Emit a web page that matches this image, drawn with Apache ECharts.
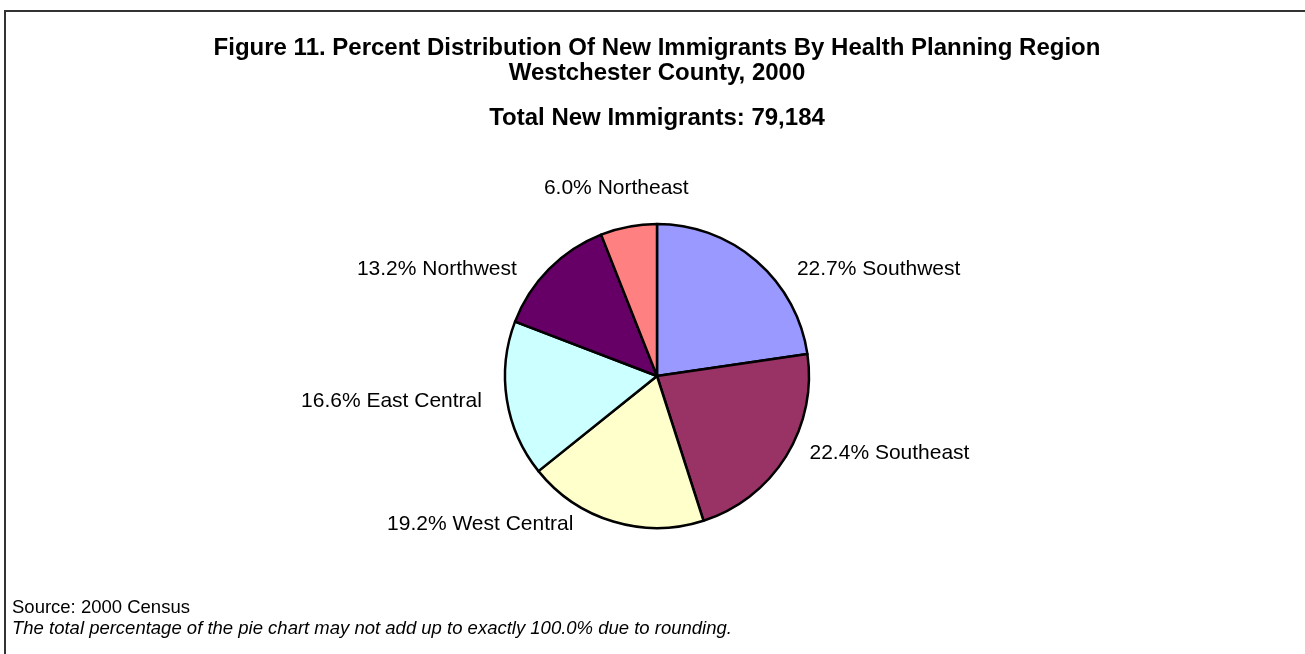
<!DOCTYPE html>
<html>
<head>
<meta charset="utf-8">
<script src="https://cdn.jsdelivr.net/npm/echarts@6/dist/echarts.min.js"></script>
<style>
html,body{margin:0;padding:0;background:#fff;}
#chart{width:1305px;height:654px;}
</style>
</head>
<body>
<div id="chart"></div>
<script>
const regions = ['Southwest', 'Southeast', 'West Central', 'East Central', 'Northwest', 'Northeast'];
const percents = [22.7, 22.4, 19.2, 16.6, 13.2, 6.0];
const sliceColors = ['#9999FF', '#993366', '#FFFFCC', '#CCFFFF', '#660066', '#FF8080'];
const titleLines = ['Figure 11. Percent Distribution Of New Immigrants By Health Planning Region', 'Westchester County, 2000'];
const subtitleText = 'Total New Immigrants: 79,184';
const sourceText = 'Source: 2000 Census';
const noteText = 'The total percentage of the pie chart may not add up to exactly 100.0% due to rounding.';
// label nudges (layout styling, not data) to mimic the hand-placed labels of the original
const labelNudge = [[9, 16], [-10, -8], [-12, -7], [10, 0], [0, 7], [87, -29]];

const FONT = '"Liberation Sans", Arial, sans-serif';
const chart = echarts.init(document.getElementById('chart'), null, {renderer: 'canvas'});

const pieData = regions.map((name, i) => ({
  name: name,
  value: percents[i],
  itemStyle: {color: sliceColors[i]}
}));

chart.setOption({
  backgroundColor: '#ffffff',
  animation: false,
  graphic: [
    {
      type: 'rect',
      shape: {x: 5, y: 11, width: 1400, height: 700},
      style: {fill: 'none', stroke: '#333333', lineWidth: 2},
      silent: true
    },
    {
      type: 'text',
      x: 657, y: 48,
      style: {text: titleLines[0], font: 'bold 24px ' + FONT, fill: '#000', align: 'center', verticalAlign: 'middle'}
    },
    {
      type: 'text',
      x: 657, y: 73,
      style: {text: titleLines[1], font: 'bold 24px ' + FONT, fill: '#000', align: 'center', verticalAlign: 'middle'}
    },
    {
      type: 'text',
      x: 657, y: 118,
      style: {text: subtitleText, font: 'bold 24px ' + FONT, fill: '#000', align: 'center', verticalAlign: 'middle'}
    },
    {
      type: 'text',
      left: 12,
      top: 598,
      style: {text: sourceText, font: '18.5px ' + FONT, fill: '#000'}
    },
    {
      type: 'text',
      left: 12,
      top: 619,
      style: {text: noteText, font: 'italic 18.5px ' + FONT, fill: '#000'}
    }
  ],
  series: [
    {
      type: 'pie',
      center: [657, 376],
      radius: 152,
      startAngle: 90,
      clockwise: true,
      avoidLabelOverlap: false,
      data: pieData,
      itemStyle: {borderColor: '#000', borderWidth: 2.5},
      emphasis: {disabled: true},
      label: {
        show: true,
        position: 'outside',
        fontFamily: FONT,
        fontSize: 21,
        color: '#000',
        formatter: p => p.value.toFixed(1) + '% ' + p.name
      },
      labelLine: {show: false, length: 10, length2: 20},
      labelLayout: p => ({dx: labelNudge[p.dataIndex][0], dy: labelNudge[p.dataIndex][1]})
    }
  ]
});
</script>
</body>
</html>
